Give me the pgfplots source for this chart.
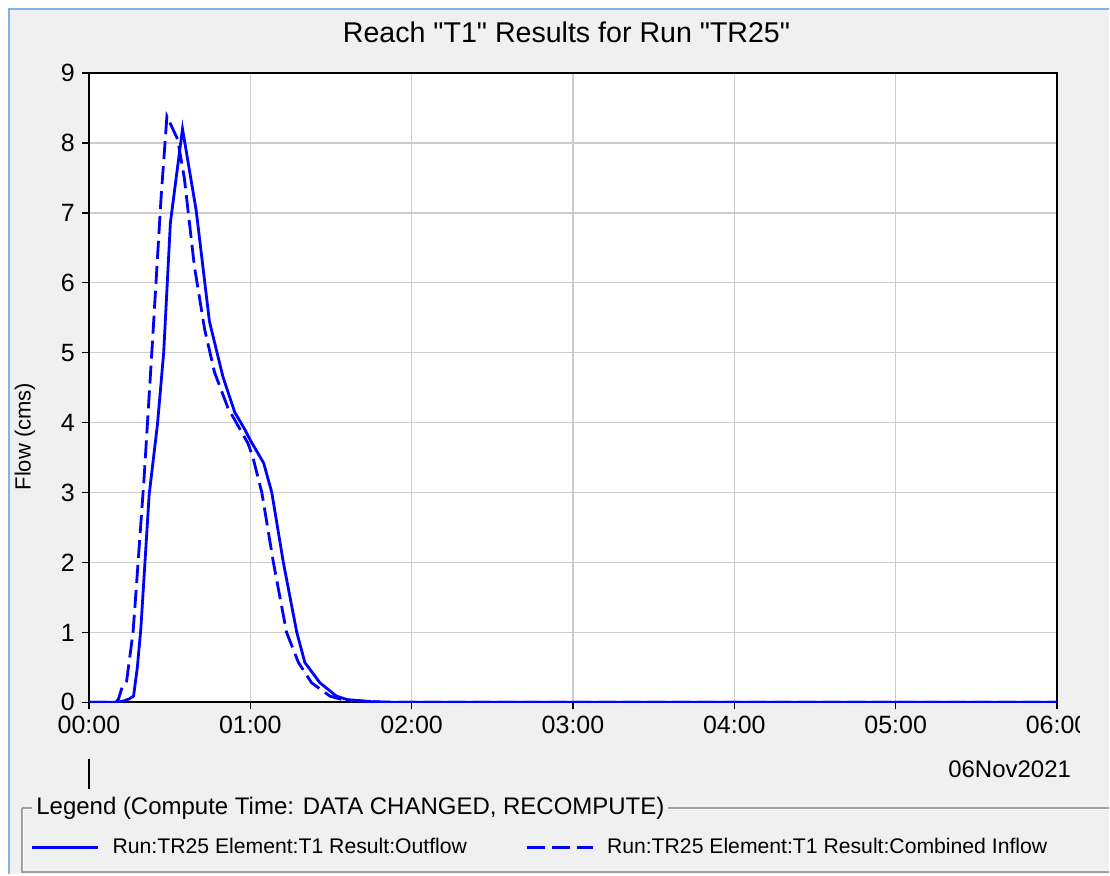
\documentclass[border=0pt]{standalone}
\usepackage{fontspec}
\setmainfont{Liberation Sans}[Ligatures=TeXOff]
\usepackage{pgfplots}
\pgfplotsset{compat=1.18}
\definecolor{bg}{HTML}{F0F0F0}
\definecolor{winborder}{HTML}{7EB4EA}
\definecolor{gridc}{HTML}{CCCCCC}
\definecolor{framec}{HTML}{A0A0A0}
\definecolor{hmsblue}{HTML}{0000FF}
\begin{document}
\begin{tikzpicture}
\begin{scope}[x=0.5pt,y=0.5pt]
\fill[white] (0,0) rectangle (1110,875);
\fill[bg] (9,0) rectangle (1110,866);
\draw[winborder,line width=1pt] (9,0) -- (9,866) -- (1110,866);
\node[font=\fontsize{14.3}{16}\selectfont] at (567,843) {Reach "T1" Results for Run "TR25"};
\node[rotate=90,font=\fontsize{11}{13}\selectfont] at (25,438) {Flow (cms)};
\end{scope}
\begin{axis}[
  at={(44.5pt,86pt)}, anchor=south west,
  scale only axis, width=484.5pt, height=315pt,
  xmin=0, xmax=360, ymin=0, ymax=9,
  xtick={0,60,...,360},
  xticklabels={00:00,01:00,02:00,03:00,04:00,05:00,06:00},
  ytick={0,1,...,9},
  grid=major,
  major grid style={gridc, line width=0.75pt},
  axis line style={black, line width=1.1pt},
  tick style={black, line width=0.75pt},
  tick align=outside, major tick length=3.5pt, tick pos=left,
  ticklabel style={font=\fontsize{12.5}{14}\selectfont},
  /pgf/number format/assume math mode=true,
  axis background/.style={fill=white},
  legend columns=2,
  legend style={at={(axis description cs:-0.0599,-0.2302)}, anchor=west,
    draw=none, fill=none, inner sep=0pt, outer sep=0pt,
    nodes={inner sep=0pt, outer sep=0pt},
    column sep=6.5pt, font=\fontsize{10.6}{13}\selectfont},
  legend image code/.code={\draw[#1] (0pt,0pt) -- (33pt,0pt);},
]
\addplot[hmsblue, line width=1.4pt] coordinates {
(0,0) (9,0) (10,0) (13,0.02) (15,0.05) (16.6,0.09) (18,0.5) (19.3,1.05)
(22.4,2.97) (25.5,3.98) (27.8,5.0) (30.3,6.86) (34.8,8.2) (39.9,7.03)
(44.8,5.45) (49.8,4.66) (54.2,4.15) (58,3.9) (60,3.75) (65,3.42) (68,3.0)
(72.3,2.0) (77.3,1.0) (80.3,0.57) (85.9,0.28) (92,0.09) (96,0.04)
(105,0.01) (115,0) (360,0)};
\addlegendentry{\makebox[200pt][l]{Run:TR25 Element:T1 Result:Outflow}}
\addplot[hmsblue, line width=1.4pt, dash pattern=on 9pt off 3.5pt] coordinates {
(0,0) (10,0) (11,0.05) (12.3,0.21) (14,0.3) (16.4,1.0) (17.3,1.47)
(20.5,3.2) (23.7,5.2) (26.8,7.2) (29,8.38) (33,8.05) (35.5,7.49)
(39.2,6.24) (43,5.34) (46.7,4.72) (51.7,4.21) (59.2,3.7) (61,3.5)
(64.3,3.0) (68.6,2.0) (73.5,1.0) (77.9,0.57) (82.8,0.28) (89.6,0.09)
(95,0.03) (105,0.01) (110,0) (360,0)};
\addlegendentry{\makebox[200pt][l]{Run:TR25 Element:T1 Result:Combined Inflow}}
\end{axis}
\begin{scope}[x=0.5pt,y=0.5pt]
\fill[bg] (1081,130) rectangle (1108,162);
\draw[black,line width=1pt] (89,115) -- (89,85);
\node[anchor=east,font=\fontsize{12}{14}\selectfont] at (1079,105) {06Nov2021};
\draw[framec,line width=1pt] (22,66) -- (22,2) -- (1110,2);
\draw[white,line width=0.5pt] (23.5,64.5) -- (23.5,3.5);
\draw[framec,line width=1pt] (22,66) -- (1110,66);
\draw[white,line width=0.5pt] (23.5,64.5) -- (1110,64.5);
\node[anchor=west,fill=bg,inner xsep=2pt,inner ysep=1pt,font=\fontsize{12}{14}\selectfont] at (32,66) {Legend (Compute Time: DATA CHANGED, RECOMPUTE)};
\end{scope}
\end{tikzpicture}
\end{document}
